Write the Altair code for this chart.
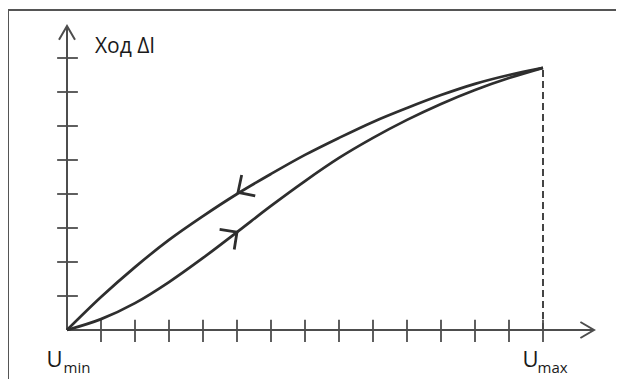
import altair as alt
import pandas as pd

# ---- data (1 unit = one tick step) ----
u_grid = list(range(0, 15))
upper_v = [0, 0.97, 1.85, 2.65, 3.35, 4.0, 4.59, 5.15, 5.65, 6.12, 6.53, 6.91, 7.24, 7.5, 7.71]
lower_v = [0, 0.32, 0.79, 1.41, 2.12, 2.88, 3.65, 4.38, 5.06, 5.65, 6.18, 6.65, 7.06, 7.41, 7.71]
x_tick_pos = list(range(1, 15))
y_tick_pos = list(range(1, 9))
x_axis_end = 15.5
y_axis_end = 8.94
u_max = 14
v_max = 7.71
arrow_u = [5.03, 5.0]
arrow_v = [4.05, 2.88]
arrow_angle = [147, 324]
y_title = "Ход ΔI"
u_labels = ["U", "U"]
u_subs = ["min", "max"]
u_label_pos = [-0.6, 13.4]
u_sub_pos = [-0.1, 13.84]

# ---- layout ----
W, H = 608, 371
PX = 34.0
OX, OY = 59.0, 322.0
xs = alt.Scale(domain=[-OX / PX, (W - OX) / PX], nice=False, zero=False)
ys = alt.Scale(domain=[(OY - H) / PX, OY / PX], nice=False, zero=False)
LINE = "#2e2e2e"
AX = "#4d4d4d"

curves = pd.DataFrame(
    {"u": u_grid + u_grid, "v": upper_v + lower_v,
     "curve": ["upper"] * len(u_grid) + ["lower"] * len(u_grid),
     "o": list(range(len(u_grid))) * 2}
)
X = lambda f="u": alt.X(f"{f}:Q", scale=xs, axis=None)
Y = lambda f="v": alt.Y(f"{f}:Q", scale=ys, axis=None)

curve_layer = alt.Chart(curves).mark_line(
    interpolate="monotone", color=LINE, strokeWidth=2.7
).encode(x=X(), y=Y(), detail="curve:N", order="o:Q")

axes = pd.DataFrame({"u": [0, 0], "v": [0, 0], "u2": [x_axis_end, 0], "v2": [0, y_axis_end]})
axes_layer = alt.Chart(axes).mark_rule(color=AX, strokeWidth=2).encode(
    x=X(), y=Y(), x2="u2:Q", y2="v2:Q")

xt = pd.DataFrame({"u": x_tick_pos, "v": [-0.35] * len(x_tick_pos), "v2": [0.3] * len(x_tick_pos)})
xt_layer = alt.Chart(xt).mark_rule(color=AX, strokeWidth=1.8).encode(x=X(), y=Y(), y2="v2:Q")
yt = pd.DataFrame({"v": y_tick_pos, "u": [-0.29] * len(y_tick_pos), "u2": [0.32] * len(y_tick_pos)})
yt_layer = alt.Chart(yt).mark_rule(color=AX, strokeWidth=1.8).encode(x=X(), x2="u2:Q", y=Y())

dash = pd.DataFrame({"u": [u_max], "v": [0], "v2": [v_max]})
dash_layer = alt.Chart(dash).mark_rule(color="#444444", strokeWidth=2, strokeDash=[7, 4]).encode(
    x=X(), y=Y(), y2="v2:Q")

arr = pd.DataFrame({"u": arrow_u, "v": arrow_v, "a": arrow_angle})
arr_layer = alt.Chart(arr).mark_point(
    shape="M-1,-1L0,0L-1,1", filled=False, size=620, strokeWidth=2.8, color=LINE, opacity=1,
    strokeJoin="miter"
).encode(x=X(), y=Y(), angle=alt.Angle("a:Q", scale=None))

ax_arr = pd.DataFrame({"u": [x_axis_end, 0], "v": [0, y_axis_end], "a": [0, 270]})
ax_arr_layer = alt.Chart(ax_arr).mark_point(
    shape="M-1.7,-1L0,0L-1.7,1", filled=False, size=256, strokeWidth=2, color=AX, opacity=1
).encode(x=X(), y=Y(), angle=alt.Angle("a:Q", scale=None))

title_df = pd.DataFrame({"u": [0.82], "v": [8.15], "t": [y_title]})
title_layer = alt.Chart(title_df).mark_text(
    align="left", baseline="alphabetic", font="Open Sans", fontSize=21, color="#1a1a1a"
).encode(x=X(), y=Y(), text="t:N")

ulab = pd.DataFrame({"u": u_label_pos, "v": [-1.09, -1.09], "t": u_labels})
ulab_layer = alt.Chart(ulab).mark_text(
    align="left", baseline="alphabetic", font="Open Sans", fontSize=22, color="#1a1a1a"
).encode(x=X(), y=Y(), text="t:N")
usub = pd.DataFrame({"u": u_sub_pos, "v": [-1.27, -1.27], "t": u_subs})
usub_layer = alt.Chart(usub).mark_text(
    align="left", baseline="alphabetic", font="Open Sans", fontSize=15, color="#1a1a1a"
).encode(x=X(), y=Y(), text="t:N")

frame_left = alt.Chart(dash).mark_rule(color="#555555", strokeWidth=2).encode(
    x=alt.value(0), y=alt.value(2), y2=alt.value(H))
frame_top = alt.Chart(dash).mark_rule(color="#555555", strokeWidth=2).encode(
    x=alt.value(0), x2=alt.value(W), y=alt.value(2))

chart = alt.layer(
    frame_left, frame_top, dash_layer, axes_layer, xt_layer, yt_layer,
    curve_layer, arr_layer, ax_arr_layer, title_layer, ulab_layer, usub_layer
).properties(
    width=W, height=H, autosize=alt.AutoSizeParams(type="none"), padding=0, background="white"
).configure_view(stroke=None)

chart.save("out.html", embed_options={"renderer": "svg", "actions": False})
